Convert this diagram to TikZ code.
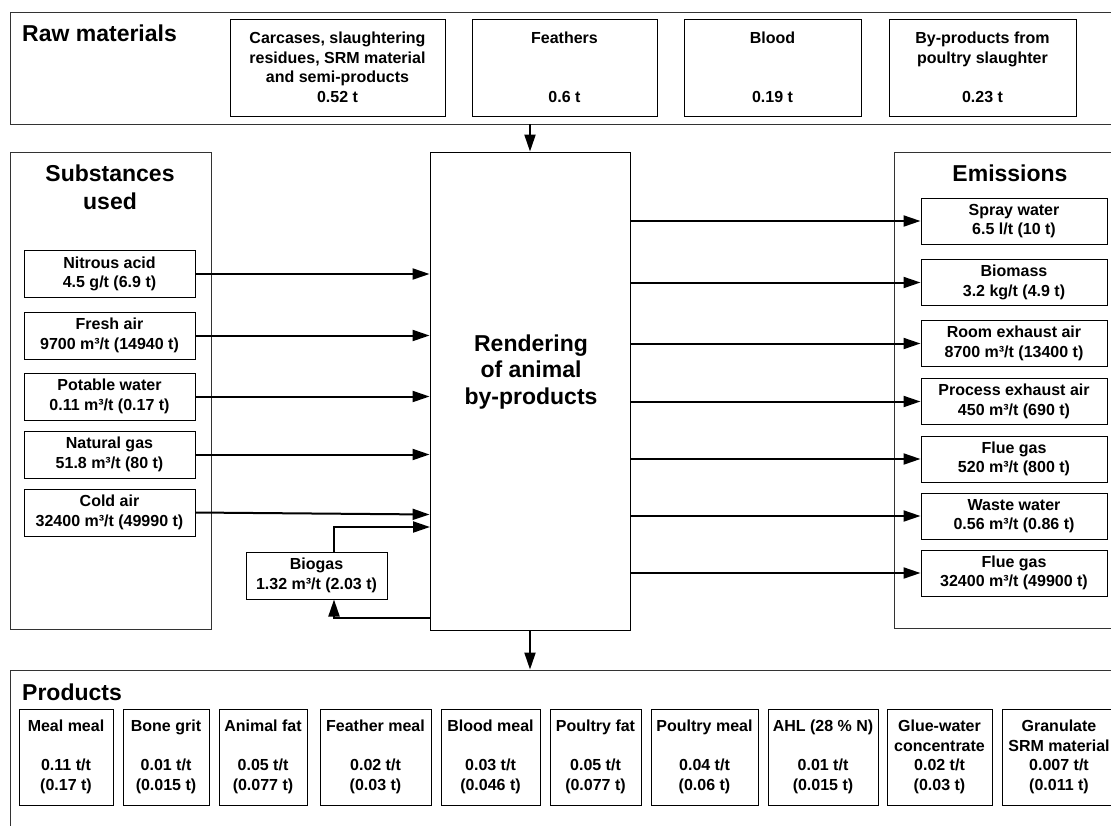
\documentclass[tikz,border=0pt]{standalone}
\usepackage{fontspec}
\setmainfont{Liberation Sans}
\usetikzlibrary{arrows.meta,calc}

\begin{document}
\begin{tikzpicture}[x=1pt, y=-1pt,
        box/.style={draw=black, line width=1pt, inner sep=1pt, align=center,
            font=\fontsize{16}{19.5}\selectfont\bfseries},
        frame/.style={draw=black!80, line width=0.9pt, inner sep=0pt},
        heading/.style={inner sep=0pt, align=center, font=\fontsize{23}{28}\selectfont\bfseries},
        flow/.style={draw=black, line width=2pt, -{Triangle[length=17pt, width=11pt]}}]
        \useasboundingbox (0,0) rectangle (1111,825);
        \fill[white] (0,0) rectangle (1111,825);
        \clip (0,0) rectangle (1111,825);

        % frames
        \node[frame, minimum width=1120, minimum height=112] (raw) at (570,68) {};
        \node[frame, minimum width=201, minimum height=477] (subst) at (110.5,390.5) {};
        \node[frame, minimum width=236, minimum height=476] (emis) at (1012,390) {};
        \node[frame, minimum width=1120, minimum height=190] (prod) at (570,765) {};
        \node[box, line width=0.9pt, minimum width=200, minimum height=478] (proc) at (530,391) {};

        \node[heading, anchor=west] (rawtitle) at (22,33) {Raw materials};
        \node[heading] (substtitle) at (110,187) {Substances\\used};
        \node[heading] (emistitle) at (1010,173) {Emissions};
        \node[heading, anchor=west] (prodtitle) at (22,692) {Products};
        \node[heading, font=\fontsize{23}{26.5}\selectfont\bfseries] (proctitle) at (531,372) {Rendering\\of animal\\by-products};

        \begin{scope}[every node/.style={box, minimum height=97}]
            \node[minimum width=215] (R1) at (337.5,67.5) {Carcases, slaughtering\\residues, SRM material\\and semi-products\\0.52 t};
            \node[minimum width=185] (R2) at (564.5,67.5) {Feathers\\~\\~\\0.6 t};
            \node[minimum width=177] (R3) at (772.5,67.5) {Blood\\~\\~\\0.19 t};
            \node[minimum width=187] (R4) at (982.5,67.5) {By-products from\\poultry slaughter\\~\\0.23 t};
        \end{scope}

        \begin{scope}[every node/.style={box, minimum width=171, minimum height=47}]
            \node (S1) at (109.5,274) {Nitrous acid\\4.5 g/t (6.9 t)};
            \node (S2) at (109.5,335.5) {Fresh air\\9700 m³/t (14940 t)};
            \node (S3) at (109.5,396.5) {Potable water\\0.11 m³/t (0.17 t)};
            \node (S4) at (109.5,454.5) {Natural gas\\51.8 m³/t (80 t)};
            \node (S5) at (109.5,512.5) {Cold air\\32400 m³/t (49990 t)};
            \node[minimum width=141] (bio) at (316.5,575.5) {Biogas\\1.32 m³/t (2.03 t)};
        \end{scope}

        \begin{scope}[every node/.style={box, minimum width=186, minimum height=46}]
            \node (E1) at (1014,221) {Spray water\\6.5 l/t (10 t)};
            \node (E2) at (1014,282.5) {Biomass\\3.2 kg/t (4.9 t)};
            \node (E3) at (1014,343.5) {Room exhaust air\\8700 m³/t (13400 t)};
            \node (E4) at (1014,401.5) {Process exhaust air\\450 m³/t (690 t)};
            \node (E5) at (1014,459) {Flue gas\\520 m³/t (800 t)};
            \node (E6) at (1014,516) {Waste water\\0.56 m³/t (0.86 t)};
            \node (E7) at (1014,573) {Flue gas\\32400 m³/t (49900 t)};
        \end{scope}

        \begin{scope}[every node/.style={box, minimum height=96}]
            \node[minimum width=94] (P1) at (66,757) {Meal meal\\~\\0.11 t/t\\(0.17 t)};
            \node[minimum width=86] (P2) at (166,757) {Bone grit\\~\\0.01 t/t\\(0.015 t)};
            \node[minimum width=88] (P3) at (263,757) {Animal fat\\~\\0.05 t/t\\(0.077 t)};
            \node[minimum width=111] (P4) at (375.5,757) {Feather meal\\~\\0.02 t/t\\(0.03 t)};
            \node[minimum width=99] (P5) at (490.5,757) {Blood meal\\~\\0.03 t/t\\(0.046 t)};
            \node[minimum width=91] (P6) at (595.5,757) {Poultry fat\\~\\0.05 t/t\\(0.077 t)};
            \node[minimum width=107] (P7) at (704.5,757) {Poultry meal\\~\\0.04 t/t\\(0.06 t)};
            \node[minimum width=110] (P8) at (823,757) {AHL (28 \% N)\\~\\0.01 t/t\\(0.015 t)};
            \node[minimum width=105] (P9) at (939.5,757) {Glue-water\\concentrate\\0.02 t/t\\(0.03 t)};
            \node[minimum width=114] (P10) at (1059,757) {Granulate\\SRM material\\0.007 t/t\\(0.011 t)};
        \end{scope}

        \coordinate (bioin) at (430,527);
        \coordinate (bioout) at (430,618);

        \begin{scope}[every edge/.style={flow}]
            \path (proc.north |- raw.south) edge (proc.north);
            \path (proc.south) edge (proc.south |- prod.north);

            \path (S1.east) edge (S1.east -| proc.west);
            \path (S2.east) edge (S2.east -| proc.west);
            \path (S3.east) edge (S3.east -| proc.west);
            \path (S4.east) edge (S4.east -| proc.west);
            \path (S5.east) edge ($(S5.east -| proc.west)+(0,2)$);

            \path (proc.east |- E1.west) edge (E1.west);
            \path (proc.east |- E2.west) edge (E2.west);
            \path (proc.east |- E3.west) edge (E3.west);
            \path (proc.east |- E4.west) edge (E4.west);
            \path (proc.east |- E5.west) edge (E5.west);
            \path (proc.east |- E6.west) edge (E6.west);
            \path (proc.east |- E7.west) edge (E7.west);
        \end{scope}

        \draw[flow] ([xshift=17.5pt]bio.north) |- (bioin);
        \draw[flow] (bioout) -| ([xshift=17.5pt]bio.south);
    \end{tikzpicture}
\end{document}
